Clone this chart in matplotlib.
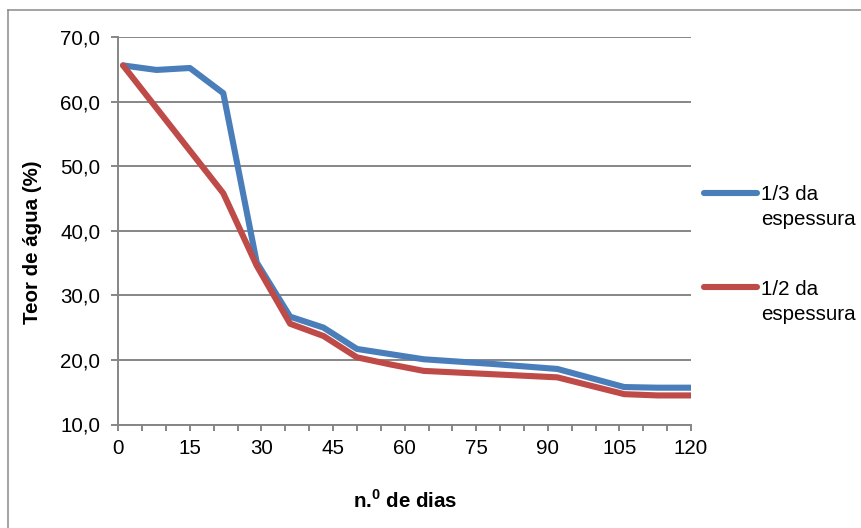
import matplotlib
matplotlib.use("Agg")
import matplotlib.pyplot as plt
from matplotlib.lines import Line2D
from matplotlib.ticker import FixedLocator, FuncFormatter

plt.rcParams['font.family'] = ['Liberation Sans', 'DejaVu Sans']
plt.rcParams['mathtext.fontset'] = 'custom'
plt.rcParams['mathtext.rm'] = 'Liberation Sans'
plt.rcParams['mathtext.bf'] = 'Liberation Sans:bold'

# Water content (%) over drying time, measured at two depths
dias = [1, 8, 15, 22, 29, 36, 43, 50, 57, 64, 78, 92, 106, 113, 120]
terco = [65.6, 64.9, 65.2, 61.3, 35.1, 26.7, 25.0, 21.7, 20.9, 20.1, 19.4, 18.6, 15.8, 15.7, 15.7]
metade = [65.6, 59.0, 52.4, 45.8, 34.6, 25.6, 23.7, 20.4, 19.3, 18.3, 17.8, 17.3, 14.7, 14.5, 14.5]

series_labels = [("1/3 da", "espessura"), ("1/2 da", "espessura")]
colors = ["#4A7EBB", "#BE4B48"]

y_ticks = [10, 20, 30, 40, 50, 60, 70]
x_labeled = [0, 15, 30, 45, 60, 75, 90, 105, 120]
x_minor = list(range(0, 121, 5))

W, H = 861, 528
fig = plt.figure(figsize=(W / 100, H / 100), dpi=100)

def fx(px):
    return px / W

def fy(py):
    return 1 - py / H

# outer chart-area frame (top and left edges visible)
grey = "#8A8A8A"
fig.add_artist(Line2D([fx(8), fx(8)], [fy(10), 0], color=grey, lw=1.1))
fig.add_artist(Line2D([fx(8), 1], [fy(10), fy(10)], color=grey, lw=1.1))

left, right, top, bottom = 118.3, 691, 37, 424.5
ax = fig.add_axes([fx(left), fy(bottom), fx(right - left), fy(top) - fy(bottom)])

for vals, c in zip([terco, metade], colors):
    ax.plot(dias, vals, color=c, lw=4.4, solid_capstyle='round',
            solid_joinstyle='round', zorder=3)

ax.set_xlim(0, 120)
ax.set_ylim(10, 70)

axis_col = "#868686"
ax.yaxis.set_major_locator(FixedLocator(y_ticks))
ax.yaxis.set_major_formatter(FuncFormatter(lambda v, p: f"{v:.1f}".replace(".", ",")))
ax.xaxis.set_major_locator(FixedLocator(x_labeled))
ax.xaxis.set_minor_locator(FixedLocator(x_minor))
ax.xaxis.set_major_formatter(FuncFormatter(lambda v, p: f"{int(v)}"))

ax.grid(axis='y', color=axis_col, lw=1.4, zorder=1)
ax.set_axisbelow(True)
for s in ['top', 'right']:
    ax.spines[s].set_visible(False)
for s in ['left', 'bottom']:
    ax.spines[s].set_color(axis_col)
    ax.spines[s].set_linewidth(1.4)

ax.tick_params(axis='y', which='major', direction='out', length=5, width=1.4,
               color=axis_col, labelsize=14.8, pad=8, labelcolor='black')
ax.tick_params(axis='x', which='both', direction='out', length=4.5, width=1.4,
               color=axis_col, labelsize=14.8, pad=6, labelcolor='black')

fig.text(fx(33), fy(242), "Teor de água (%)", rotation=90, ha='center', va='center',
         fontsize=14.8, fontweight='bold')
fig.text(fx(405), fy(501), r"n.$^{\mathbf{0}}$ de dias", ha='center', va='center',
         fontsize=14.8, fontweight='bold')

# legend entries on the right
for (l1, l2), c, ly in zip(series_labels, colors, [192.7, 287.3]):
    fig.add_artist(Line2D([fx(704), fx(757)], [fy(ly), fy(ly)], color=c, lw=4.4,
                          solid_capstyle='round'))
    fig.text(fx(761), fy(ly + 7.5), l1, fontsize=14.8, va='baseline', ha='left')
    fig.text(fx(761), fy(ly + 32.5), l2, fontsize=14.8, va='baseline', ha='left')

fig.savefig("out.png", dpi=100)
